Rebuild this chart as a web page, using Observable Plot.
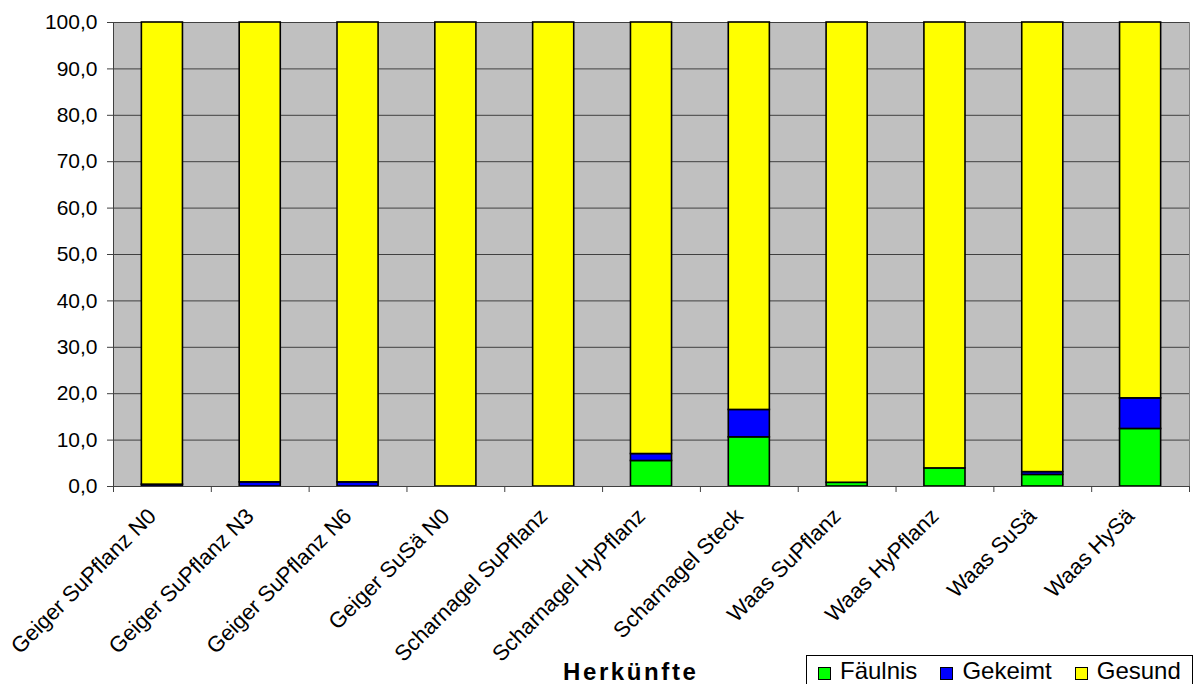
<!DOCTYPE html>
<html><head><meta charset="utf-8">
<script src="https://cdn.jsdelivr.net/npm/d3@7"></script>
<script src="https://cdn.jsdelivr.net/npm/@observablehq/plot@0.6"></script>
<style>
body{margin:0;background:#fff;font-family:"Liberation Sans",Arial,sans-serif;}
#wrap{position:relative;width:1197px;height:684px;overflow:hidden;}
#xlabel{position:absolute;left:563px;top:660px;font-weight:bold;font-size:24px;line-height:24px;letter-spacing:2.6px;color:#000;}
#legend{position:absolute;left:806px;top:655px;width:387px;height:40px;border:1px solid #000;background:#fff;display:flex;align-items:flex-start;padding:3px 0 0 11px;box-sizing:border-box;font-size:24px;line-height:24px;color:#000;}
.item{display:flex;align-items:center;margin-right:23px;}
.sw{width:11px;height:11px;border:1.5px solid #000;margin-right:9px;margin-top:4px;}
</style></head>
<body><div id="wrap"><div id="chart"></div><div id="xlabel"></div><div id="legend"></div></div>
<script>
const categories = ["Geiger SuPflanz N0","Geiger SuPflanz N3","Geiger SuPflanz N6","Geiger SuSä N0","Scharnagel SuPflanz","Scharnagel HyPflanz","Scharnagel Steck","Waas SuPflanz","Waas HyPflanz","Waas SuSä","Waas HySä"];
const seriesNames = ["Fäulnis","Gekeimt","Gesund"];
const seriesColors = ["#00FF00","#0000FF","#FFFF00"];
const faeulnis = [0, 0, 0, 0, 0, 5.5, 10.6, 0.8, 3.9, 2.5, 12.4];
const gekeimt = [0.4, 0.9, 0.9, 0, 0, 1.5, 5.9, 0, 0, 0.6, 6.6];
const gesund = [99.6, 99.1, 99.1, 100, 100, 93.0, 83.5, 99.2, 96.1, 96.9, 81.0];
const yTicks = [0,10,20,30,40,50,60,70,80,90,100];
const xLabel = "Herkünfte";

const seriesValues = [faeulnis, gekeimt, gesund];
const rows = [];
categories.forEach((c, i) => {
  let acc = 0;
  seriesValues.forEach((vals, s) => {
    const v = vals[i];
    if (v > 0) rows.push({i, series: seriesNames[s], y1: acc, y2: acc + v});
    acc += v;
  });
});
const half = 0.21;
const xDomain = [-0.5, categories.length - 0.5];
const boundaries = d3.range(xDomain[0], xDomain[1] + 0.01, 1);

const plot = Plot.plot({
  width: 1197, height: 650,
  marginLeft: 113, marginRight: 8, marginTop: 22, marginBottom: 164,
  style: {fontFamily: "'Liberation Sans', Arial, sans-serif", background: "#fff", overflow: "visible"},
  x: {type: "linear", domain: xDomain},
  y: {domain: [0, 100]},
  color: {domain: seriesNames, range: seriesColors},
  marks: [
    Plot.frame({fill: "#C0C0C0", stroke: null}),
    Plot.gridY(yTicks.slice(1), {stroke: "#404040", strokeOpacity: 1, strokeWidth: 1}),
    Plot.ruleX([xDomain[1]], {stroke: "#808080"}),
    Plot.rect(rows, {x1: d => d.i - half, x2: d => d.i + half, y1: "y1", y2: "y2", fill: "series", stroke: "#000", strokeWidth: 1.6}),
    Plot.ruleX([xDomain[0]], {stroke: "#404040", strokeWidth: 1}),
    Plot.ruleY([0], {stroke: "#404040", strokeWidth: 1}),
    Plot.axisY({ticks: yTicks, tickSize: 6, tickPadding: 10, tickFormat: d => d.toFixed(1).replace(".", ","), fontSize: 21, label: null, stroke: "#404040"}),
    Plot.axisX({ticks: boundaries, tickSize: 6, tickFormat: () => "", label: null, stroke: "#404040"}),
    Plot.axisX({ticks: d3.range(categories.length), tickSize: 0, tickPadding: 10, tickRotate: -45, tickFormat: i => categories[i], fontSize: 22, label: null, dx: -10, dy: 16})
  ]
});
document.getElementById("chart").appendChild(plot);
document.getElementById("xlabel").textContent = xLabel;
const leg = document.getElementById("legend");
seriesNames.forEach((n, k) => {
  const it = document.createElement("div"); it.className = "item";
  const sw = document.createElement("div"); sw.className = "sw"; sw.style.background = seriesColors[k];
  const t = document.createElement("span"); t.textContent = n;
  it.appendChild(sw); it.appendChild(t); leg.appendChild(it);
});
</script></body></html>
